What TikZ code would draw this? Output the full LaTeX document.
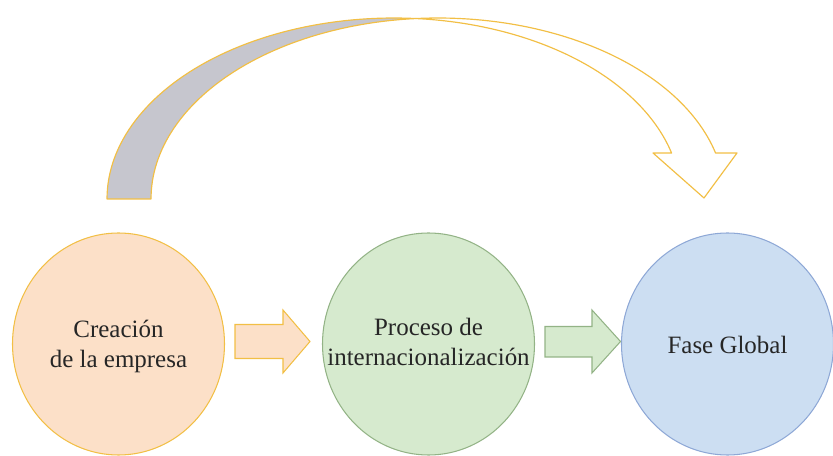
\documentclass[tikz,border=0pt]{standalone}
\usepackage{fontspec}
\setmainfont{Liberation Serif}
\usetikzlibrary{shapes.geometric}

\definecolor{peachfill}{HTML}{FCE0C8}
\definecolor{goldline}{HTML}{F2BF45}
\definecolor{greenfill}{HTML}{D6EACE}
\definecolor{greenline}{HTML}{93B386}
\definecolor{bluefill}{HTML}{CCDEF2}
\definecolor{blueline}{HTML}{8EA8D6}
\definecolor{backface}{HTML}{C6C6CE}
\definecolor{txt}{HTML}{262626}

\tikzset{
  stage/.style={ellipse, minimum width=6.36cm, minimum height=6.66cm,
    inner sep=0pt, line width=0.9pt},
  stagetext/.style={align=center, text=txt, inner sep=0pt,
    font=\fontsize{21.3}{25.5}\selectfont},
  blockarrow/.style={line width=0.9pt, line join=miter},
  ribbon/.style={draw=goldline, line width=1pt, line join=round}
}

\begin{document}
\begin{tikzpicture}[x=0.03cm, y=-0.03cm]
  \useasboundingbox (0,0) rectangle (833,456);

  % the three stages
  \node[stage, fill=peachfill, draw=goldline,
        label={[stagetext, yshift=-0.08cm]center:Creación\\de la empresa}] (c1) at (118.5,344) {};
  \node[stage, fill=greenfill, draw=greenline,
        label={[stagetext, yshift=0.05cm]center:Proceso de\\internacionalización}] (c2) at (428.5,344) {};
  \node[stage, fill=bluefill, draw=blueline,
        label={[stagetext, yshift=-0.03cm]center:Fase Global}] (c3) at (727.5,344) {};

  % block arrows between the stages
  \draw[blockarrow, fill=peachfill, draw=goldline]
    (235,324.5) -- (283,324.5) -- (283,310) -- (310,341.5) -- (283,373)
    -- (283,358.5) -- (235,358.5) -- cycle;
  \draw[blockarrow, fill=greenfill, draw=greenline]
    (545,326.5) -- (592,326.5) -- (592,310) -- (620.5,341.5) -- (592,373)
    -- (592,357) -- (545,357) -- cycle;

  % curved arrow over the top: two equal ellipses, the left one centred
  % at (394,199), the right one at (438,199), radii 287 x 181
  % back face (left part of the ribbon)
  \draw[ribbon, fill=backface]
    plot[domain=180:85.6, samples=60] ({394+287*cos(\x)}, {199-181*sin(\x)})
    -- plot[domain=94.4:180, samples=60] ({438+287*cos(\x)}, {199-181*sin(\x)})
    -- cycle;
  % front face with the arrow head
  \draw[ribbon, fill=white]
    plot[domain=94.4:14.7, samples=60] ({438+287*cos(\x)}, {199-181*sin(\x)})
    -- (737,153) -- (704,198) -- (653,153)
    -- plot[domain=14.7:85.6, samples=60] ({394+287*cos(\x)}, {199-181*sin(\x)})
    -- cycle;
\end{tikzpicture}
\end{document}
